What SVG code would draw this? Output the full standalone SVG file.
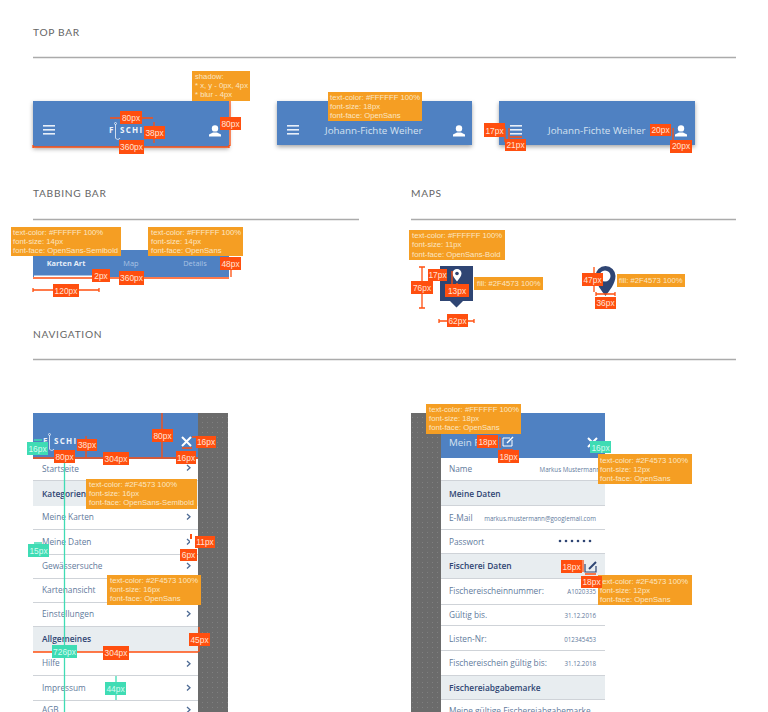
<svg xmlns="http://www.w3.org/2000/svg" width="768" height="712" viewBox="0 0 768 712">
<defs>
<style>
text{font-family:"Open Sans","Liberation Sans",sans-serif}
.h{font-family:Lato,"Liberation Sans",sans-serif;font-size:10.2px;font-weight:400;fill:#666;letter-spacing:.7px}
.rule{stroke:#ababab;stroke-width:1.4;fill:none}
.bar{fill:#4f81c2}
.shadow{filter:drop-shadow(0 2px 2px rgba(0,0,0,.35))}
.white{fill:#d5e1f0;font-size:9.800px}
.tab{fill:#a9c3e4;font-size:7.400px}
.tabb{fill:#e6eef8;font-size:7.400px;font-weight:700}
.tip{fill:#f59e23}
.tt{fill:#fbe6c4;font-size:7.700px;font-family:"Liberation Sans",sans-serif}
.dim{fill:#ff4f0f}
.mint{fill:#3fdcb4}
.dt{fill:#ffe3d6;font-size:8.400px;font-family:"Liberation Sans",sans-serif;text-anchor:middle}
.mt{fill:#d6fbf0;font-size:8.400px;font-family:"Liberation Sans",sans-serif;text-anchor:middle}
.dl{stroke:#ff4f0f;stroke-width:1.300;fill:none}
.ml{stroke:#3fdcb4;stroke-width:1.300;fill:none}
.row{fill:#5f7a9c;font-size:8.300px}
.hd{fill:#2f4573;font-size:8.400px;font-weight:600}
.val{fill:#5f7a9c;font-size:6.200px}
.sep{stroke:#cfd3d8;stroke-width:1.200}
.band{fill:#e8edf0}
.chev{fill:none;stroke:#4d6a94;stroke-width:1.300}
.grey{fill:url(#dots)}
.dark{fill:#2f4573}
.logo{fill:#eef3fa;font-size:8px;font-weight:700;letter-spacing:1.300px}
.hook{fill:none;stroke:#dfe8f4;stroke-width:.9}
</style>
<pattern id="dots" width="5" height="5" patternUnits="userSpaceOnUse"><rect width="5" height="5" fill="#6b6b6b"/><circle cx="2.500" cy="2.500" r=".5" fill="#878787"/></pattern>
<g id="burger"><rect width="12" height="1.600" fill="#e8eff8"/><rect y="4" width="12" height="1.600" fill="#e8eff8"/><rect y="8" width="12" height="1.600" fill="#e8eff8"/></g>
<g id="user"><circle cx="6" cy="3.400" r="3.200" fill="#fff"/><path d="M0 11.500V9.600L4 7.500H8L12 9.600V11.500Z" fill="#fff"/></g>
<path id="ch" class="chev" d="M0 0L3 2.800L0 5.600"/>
</defs>
<rect width="768" height="712" fill="#fff"/>

<g id="headings">
<text class="h" x="33" y="36">TOP BAR</text><path class="rule" d="M33 57.500H736"/>
<text class="h" x="33" y="197">TABBING BAR</text><path class="rule" d="M33 219.500H359"/>
<text class="h" x="411" y="197">MAPS</text><path class="rule" d="M411 219.500H736"/>
<text class="h" x="33" y="338">NAVIGATION</text><path class="rule" d="M33 359.500H736"/>
</g>

<g id="topbar-logo">
<rect class="bar shadow" x="33" y="101" width="196" height="46"/>
<use href="#burger" x="43" y="125"/>
<text class="logo" x="109" y="133">F</text><text class="logo" x="120" y="133">SCHI</text>
<path class="hook" d="M115.500 124V138A2.500 2.500 0 0 0 120 138"/><circle cx="115.500" cy="123.500" r="1" class="hook"/>
<use href="#user" x="209" y="125"/>
</g>
<g id="topbar-title">
<rect class="bar shadow" x="277" y="101" width="195" height="44"/>
<use href="#burger" x="287" y="125"/>
<text class="white" x="325" y="134">Johann-Fichte Weiher</text>
<use href="#user" x="453" y="125"/>
</g>
<g id="topbar-icons">
<rect class="bar shadow" x="499" y="101" width="196" height="44"/>
<use href="#burger" x="510" y="125"/>
<text class="white" x="548" y="134">Johann-Fichte Weiher</text>
<use href="#user" x="675" y="125"/>
</g>

<g id="tabbing-bar">
<rect class="bar" x="33" y="250" width="196" height="27"/>
<rect x="34" y="275.500" width="61" height="1.500" fill="#fff"/>
<text class="tabb" x="66" y="266" text-anchor="middle">Karten Art</text>
<text class="tab" x="131" y="266" text-anchor="middle">Map</text>
<text class="tab" x="195" y="266" text-anchor="middle">Details</text>
</g>

<g id="map-marker">
<path class="dark" d="M440 266H473V301H463L456.500 307.500L450 301H440Z"/>
<path d="M457 269A4.500 4.500 0 0 1 461.500 273.500C461.500 276 459 279 457 281.500C455 279 452.500 276 452.500 273.500A4.500 4.500 0 0 1 457 269Z" fill="#fff"/>
<circle cx="457" cy="273.500" r="1.800" class="dark"/>
</g>
<g id="map-pin">
<path class="dark" d="M605.500 266A10 10 0 0 1 615.500 276C615.500 284 609 291 605.500 296C602 291 595.500 284 595.500 276A10 10 0 0 1 605.500 266Z"/>
<circle cx="605" cy="276" r="5.500" fill="#fff"/>
</g>

<g id="nav-menu">
<rect class="grey" x="198" y="413" width="30" height="299"/>
<rect x="33" y="459" width="165" height="253" fill="#fff"/>
<rect class="bar" x="33" y="413" width="165" height="46"/>
<text class="logo" x="43" y="444">F</text><text class="logo" x="54" y="444">SCHI</text>
<path class="hook" d="M49.500 435V449A2.500 2.500 0 0 0 54 449"/><circle cx="49.500" cy="434.500" r="1" class="hook"/>
<path d="M182 437L191 446M191 437L182 446" stroke="#fff" stroke-width="2"/>
<rect class="band" x="33" y="481" width="165" height="25"/>
<rect class="band" x="33" y="627" width="165" height="25"/>
<path class="sep" d="M33 480.500H198M33 529.500H198M33 554.500H198M33 578.500H198M33 602.500H198M33 626.500H198M33 675.500H198M33 700.500H198"/>
<text class="row" x="42" y="472">Startseite</text>
<text class="hd" x="42" y="497">Kategorien</text>
<text class="row" x="42" y="520">Meine Karten</text>
<text class="row" x="42" y="545">Meine Daten</text>
<text class="row" x="42" y="569">Gewässersuche</text>
<text class="row" x="42" y="593">Kartenansicht</text>
<text class="row" x="42" y="617">Einstellungen</text>
<text class="hd" x="42" y="642">Allgemeines</text>
<text class="row" x="42" y="666">Hilfe</text>
<text class="row" x="42" y="691">Impressum</text>
<text class="row" x="42" y="713">AGB</text>
<use href="#ch" x="187" y="465"/><use href="#ch" x="187" y="514"/><use href="#ch" x="187" y="539"/><use href="#ch" x="187" y="563"/><use href="#ch" x="187" y="587"/><use href="#ch" x="187" y="611"/><use href="#ch" x="187" y="661"/><use href="#ch" x="187" y="685"/><use href="#ch" x="187" y="707"/>
</g>

<g id="nav-profile">
<rect class="grey" x="411" y="413" width="30" height="299"/>
<rect x="441" y="458" width="164" height="254" fill="#fff"/>
<rect class="bar" x="441" y="413" width="164" height="45"/>
<text x="449" y="446" fill="#d5e1f0" font-size="9.800">Mein F</text>
<path d="M503 438H510M503 438V446H512V440" stroke="#fff" stroke-width="1" fill="none"/><path d="M507 443L513 437" stroke="#fff" stroke-width="1.500"/>
<path d="M588 438L597 447M597 438L588 447" stroke="#fff" stroke-width="2"/>
<rect class="band" x="441" y="481" width="164" height="24"/>
<rect class="band" x="441" y="554" width="164" height="24"/>
<rect class="band" x="441" y="676" width="164" height="23"/>
<path class="sep" d="M441 480.500H605M441 505.500H605M441 529.500H605M441 553.500H605M441 578.500H605M441 604.500H605M441 625.500H605M441 650.500H605M441 675.500H605M441 699.500H605"/>
<text class="row" x="449" y="472">Name</text>
<text class="val" x="600" y="472" text-anchor="end">Markus Mustermann</text>
<text class="hd" x="449" y="497">Meine Daten</text>
<text class="row" x="449" y="521">E-Mail</text>
<text class="val" x="596" y="521" text-anchor="end">markus.mustermann@googlemail.com</text>
<text class="row" x="449" y="545">Passwort</text>
<g class="dark"><circle cx="560" cy="541" r="1.300"/><circle cx="566" cy="541" r="1.300"/><circle cx="572" cy="541" r="1.300"/><circle cx="578" cy="541" r="1.300"/><circle cx="584" cy="541" r="1.300"/><circle cx="590" cy="541" r="1.300"/></g>
<text class="hd" x="449" y="569">Fischerei Daten</text>
<path d="M585 564V572H596V566" stroke="#2f4573" stroke-width="1.200" fill="none"/><path d="M589 569L596 562" stroke="#2f4573" stroke-width="2"/>
<text class="row" x="449" y="594">Fischereischeinnummer:</text>
<text class="val" x="596" y="594" text-anchor="end">A1020335</text>
<text class="row" x="449" y="618">Gültig bis.</text>
<text class="val" x="596" y="618" text-anchor="end">31.12.2016</text>
<text class="row" x="449" y="642">Listen-Nr:</text>
<text class="val" x="596" y="642" text-anchor="end">012345453</text>
<text class="row" x="449" y="666">Fischereischein gültig bis:</text>
<text class="val" x="596" y="666" text-anchor="end">31.12.2018</text>
<text class="hd" x="449" y="691">Fischereiabgabemarke</text>
<text class="row" x="449" y="714">Meine gültige Fischereiabgabemarke</text>
</g>

<g id="connectors">
<path class="dl" d="M230 101V146M33 147H229M110 118H153M154 122V143M33 145V148M229 145V148"/>
<path class="dl" d="M505 128V142M509 128V142M510 137H522M673 128V142M677 142H690"/>
<path class="dl" d="M33 278H229M231 270V277M33 290H99M33 288V292M99 288V292"/>
<path class="dl" d="M422 267V308M419 267H425M419 308H425M452 271V284M457 283V285M439 321H474M439 319V323M474 319V323"/>
<path class="dl" d="M594 267V292M596 294H615M596 292V296M615 292V296"/>
<path class="dl" d="M33 458H198M162 413V458M86 436V458M182 448H192M192 437H196M33 652H198M199 627V652"/>
<path class="dl" d="M500 437V448M502 450H513M583 560V572M585 574H596"/>
<path class="ml" d="M64.500 458V712M34 440H42M34 543H42M116 676V700"/>
<rect x="190" y="534" width="2" height="5" fill="#ff4f0f"/><rect x="190" y="540" width="5" height="6" fill="#fff"/>
</g>

<g id="notes">
<rect class="tip" x="192" y="71" width="58" height="30"/>
<text class="tt" x="195" y="79">shadow:</text><text class="tt" x="195" y="88">* x, y - 0px, 4px</text><text class="tt" x="195" y="97">* blur - 4px</text>
<rect class="tip" x="328" y="92" width="94" height="29"/>
<text class="tt" x="330" y="100">text-color: #FFFFFF 100%</text><text class="tt" x="330" y="109">font-size: 18px</text><text class="tt" x="330" y="118">font-face: OpenSans</text>
<rect class="tip" x="11" y="227" width="110" height="29"/>
<text class="tt" x="13" y="235">text-color: #FFFFFF 100%</text><text class="tt" x="13" y="244">font-size: 14px</text><text class="tt" x="13" y="253">font-face: OpenSans-Semibold</text>
<rect class="tip" x="148" y="227" width="95" height="29"/>
<text class="tt" x="151" y="235">text-color: #FFFFFF 100%</text><text class="tt" x="151" y="244">font-size: 14px</text><text class="tt" x="151" y="253">font-face: OpenSans</text>
<rect class="tip" x="409" y="230" width="96" height="30"/>
<text class="tt" x="412" y="238">text-color: #FFFFFF 100%</text><text class="tt" x="412" y="247">font-size: 11px</text><text class="tt" x="412" y="257">font-face: OpenSans-Bold</text>
<rect class="tip" x="474" y="277" width="69" height="13"/><text class="tt" x="477" y="286">fill: #2F4573 100%</text>
<rect class="tip" x="617" y="274" width="68" height="13"/><text class="tt" x="619" y="283">fill: #2F4573 100%</text>
<rect class="tip" x="86" y="479" width="111" height="30"/>
<text class="tt" x="89" y="487">text-color: #2F4573 100%</text><text class="tt" x="89" y="496">font-size: 16px</text><text class="tt" x="89" y="505">font-face: OpenSans-Semibold</text>
<rect class="tip" x="107" y="575" width="94" height="30"/>
<text class="tt" x="110" y="583">text-color: #2F4573 100%</text><text class="tt" x="110" y="592">font-size: 16px</text><text class="tt" x="110" y="601">font-face: OpenSans</text>
<rect class="tip" x="426" y="404" width="95" height="30"/>
<text class="tt" x="429" y="412">text-color: #FFFFFF 100%</text><text class="tt" x="429" y="421">font-size: 18px</text><text class="tt" x="429" y="430">font-face: OpenSans</text>
<rect class="tip" x="598" y="454" width="94" height="30"/>
<text class="tt" x="600" y="463">text-color: #2F4573 100%</text><text class="tt" x="600" y="472">font-size: 12px</text><text class="tt" x="600" y="481">font-face: OpenSans</text>
<rect class="tip" x="598" y="575" width="94" height="30"/>
<text class="tt" x="600" y="584">text-color: #2F4573 100%</text><text class="tt" x="600" y="593">font-size: 12px</text><text class="tt" x="600" y="602">font-face: OpenSans</text>
</g>

<g id="dimension-labels">
<rect class="dim" x="120" y="111" width="22" height="13"/><text class="dt" x="131" y="121">80px</text>
<rect class="dim" x="144" y="126" width="21" height="13"/><text class="dt" x="154.500" y="136">38px</text>
<rect class="dim" x="119" y="140" width="25" height="14"/><text class="dt" x="131.500" y="150">360px</text>
<rect class="dim" x="220" y="117" width="21" height="13"/><text class="dt" x="230.500" y="127">80px</text>
<rect class="dim" x="484" y="123" width="21" height="14"/><text class="dt" x="494.500" y="134">17px</text>
<rect class="dim" x="505" y="139" width="21" height="12"/><text class="dt" x="515.500" y="148">21px</text>
<rect class="dim" x="650" y="124" width="21" height="12"/><text class="dt" x="660.500" y="133">20px</text>
<rect class="dim" x="670" y="140" width="22" height="13"/><text class="dt" x="681" y="149">20px</text>
<rect class="dim" x="92" y="269" width="18" height="13"/><text class="dt" x="101" y="279">2px</text>
<rect class="dim" x="119" y="271" width="25" height="14"/><text class="dt" x="131.500" y="281">360px</text>
<rect class="dim" x="220" y="257" width="21" height="13"/><text class="dt" x="230.500" y="267">48px</text>
<rect class="dim" x="53" y="284" width="26" height="13"/><text class="dt" x="66" y="294">120px</text>
<rect class="dim" x="411" y="281" width="22" height="13"/><text class="dt" x="422" y="291">76px</text>
<rect class="dim" x="428" y="269" width="19" height="12"/><text class="dt" x="437.500" y="278">17px</text>
<rect class="dim" x="445" y="284" width="24" height="13"/><text class="dt" x="457" y="294">13px</text>
<rect class="dim" x="447" y="314" width="21" height="13"/><text class="dt" x="457.500" y="324">62px</text>
<rect class="dim" x="582" y="273" width="21" height="13"/><text class="dt" x="592.500" y="283">47px</text>
<rect class="dim" x="595" y="297" width="21" height="12"/><text class="dt" x="605.500" y="306">36px</text>
<rect class="dim" x="54" y="450" width="21" height="13"/><text class="dt" x="64.500" y="460">80px</text>
<rect class="dim" x="77" y="439" width="20" height="12"/><text class="dt" x="87" y="448">38px</text>
<rect class="dim" x="103" y="452" width="26" height="13"/><text class="dt" x="116" y="462">304px</text>
<rect class="dim" x="152" y="429" width="21" height="13"/><text class="dt" x="162.500" y="439">80px</text>
<rect class="dim" x="176" y="451" width="20" height="13"/><text class="dt" x="186" y="461">16px</text>
<rect class="dim" x="196" y="436" width="20" height="12"/><text class="dt" x="206" y="445">16px</text>
<rect class="dim" x="195" y="536" width="20" height="12"/><text class="dt" x="205" y="545">11px</text>
<rect class="dim" x="180" y="549" width="17" height="12"/><text class="dt" x="188.500" y="558">6px</text>
<rect class="dim" x="189" y="633" width="21" height="13"/><text class="dt" x="199.500" y="643">45px</text>
<rect class="dim" x="103" y="646" width="26" height="14"/><text class="dt" x="116" y="656">304px</text>
<rect class="dim" x="477" y="435" width="21" height="13"/><text class="dt" x="487.500" y="445">18px</text>
<rect class="dim" x="498" y="450" width="21" height="13"/><text class="dt" x="508.500" y="460">18px</text>
<rect class="dim" x="561" y="560" width="21" height="13"/><text class="dt" x="571.500" y="570">18px</text>
<rect class="dim" x="581" y="576" width="21" height="12"/><text class="dt" x="591.500" y="585">18px</text>
<rect class="mint" x="27" y="442" width="21" height="13"/><text class="mt" x="37.500" y="452">16px</text>
<rect class="mint" x="28" y="544" width="21" height="13"/><text class="mt" x="38.500" y="554">15px</text>
<rect class="mint" x="52" y="645" width="25" height="13"/><text class="mt" x="64.500" y="655">726px</text>
<rect class="mint" x="105" y="682" width="21" height="13"/><text class="mt" x="115.500" y="692">44px</text>
<rect class="mint" x="590" y="441" width="21" height="12"/><text class="mt" x="600.500" y="451">16px</text>
</g>
</svg>
